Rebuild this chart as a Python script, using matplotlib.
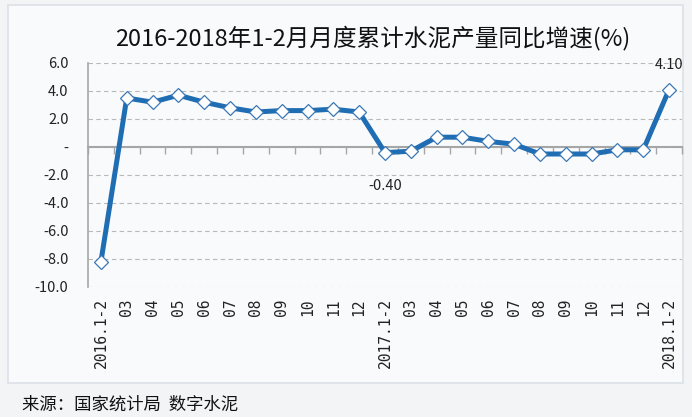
import matplotlib.pyplot as plt
from matplotlib.patches import Rectangle

plt.rcParams['font.family'] = ['Noto Sans CJK SC', 'DejaVu Sans']

# categories and monthly cumulative growth values (%)
months = ['2016.1-2', '03', '04', '05', '06', '07', '08', '09', '10', '11', '12',
          '2017.1-2', '03', '04', '05', '06', '07', '08', '09', '10', '11', '12',
          '2018.1-2']
growth = [-8.2, 3.5, 3.2, 3.7, 3.2, 2.8, 2.5, 2.6, 2.6, 2.7, 2.5,
          -0.4, -0.3, 0.7, 0.7, 0.4, 0.2, -0.5, -0.5, -0.5, -0.2, -0.2,
          4.1]
y_ticks = [6, 4, 2, 0, -2, -4, -6, -8, -10]
y_labels = ['6.0', '4.0', '2.0', '-', '-2.0', '-4.0', '-6.0', '-8.0', '-10.0']
labelled = {11: (-0.40, -24), 22: (4.10, 18)}

fig = plt.figure(figsize=(6.92, 4.17), dpi=100)
fig.patch.set_facecolor('#f3f4f6')

# chart box
fig.patches.append(Rectangle((8 / 692, 1 - 383 / 417), 675 / 692, 378 / 417,
                             transform=fig.transFigure, facecolor='#f9fafc',
                             edgecolor='#dbe1e8', linewidth=1.2, zorder=-5))

ax = fig.add_axes([88 / 692, 1 - 287 / 417, 594 / 692, 224 / 417])
ax.set_facecolor('none')
ax.set_zorder(2)

x = list(range(len(months)))
ax.plot(x, growth, color='#1f6db3', linewidth=3.6, marker='D', markersize=7.5,
        markerfacecolor='white', markeredgecolor='#3a78b5', markeredgewidth=0.9,
        zorder=5, clip_on=False)

for i, (val, off) in labelled.items():
    ax.annotate(f'{val:.2f}', (x[i], growth[i]), xytext=(0, off), textcoords='offset points',
                ha='center', va='center', fontsize=10.5, color='#222222')

ax.set_xlim(-0.5, len(months) - 0.5)
ax.set_ylim(-10, 6)
ax.set_yticks(y_ticks)
ax.set_yticklabels(y_labels)
ax.tick_params(axis='y', length=0, pad=14, labelsize=10.5, labelcolor='#222222')
ax.grid(axis='y', linestyle=(0, (4, 3)), color='#b8b8b8', linewidth=0.8)
ax.set_axisbelow(True)

for s in ['top', 'right']:
    ax.spines[s].set_visible(False)
ax.spines['left'].set_color('#a6a6a6')
ax.spines['left'].set_linewidth(1.2)
ax.spines['bottom'].set_position(('data', 0))
ax.spines['bottom'].set_color('#a6a6a6')
ax.spines['bottom'].set_linewidth(1.5)

# tick marks at category boundaries on the zero line
ax.set_xticks([i - 0.5 for i in range(len(months) + 1)])
ax.set_xticklabels([])
ax.tick_params(axis='x', direction='out', length=5, width=1, color='#a6a6a6')

# category labels at the bottom
sec = ax.secondary_xaxis('bottom')
sec.set_xticks(x)
sec.set_xticklabels(months, rotation=90, family='DejaVu Sans Mono', fontsize=10.5, color='#222222')
sec.tick_params(length=0, pad=8)
sec.spines['bottom'].set_visible(False)

fig.text(373 / 692, 1 - 38 / 417, '2016-2018年1-2月月度累计水泥产量同比增速(%)',
         ha='center', va='center', fontsize=17, color='#111111')
fig.text(22 / 692, 1 - 405 / 417, '来源：国家统计局  数字水泥',
         ha='left', va='center', fontsize=12.5, color='#111111')

fig.savefig('out.png', dpi=100, facecolor=fig.get_facecolor())
